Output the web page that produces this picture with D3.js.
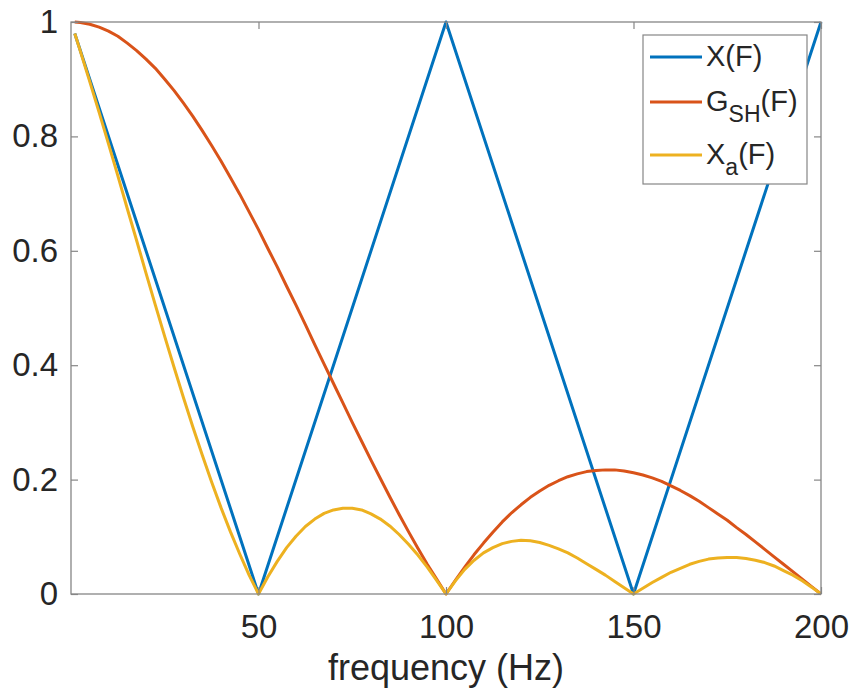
<!DOCTYPE html>
<html>
<head>
<meta charset="utf-8">
<script src="https://cdn.jsdelivr.net/npm/d3@7"></script>
<style>
  html, body { margin: 0; padding: 0; background: #fff; }
  text { font-family: "Liberation Sans", Arial, Helvetica, sans-serif; fill: #262626; }
</style>
</head>
<body>
<div id="vis"></div>
<script>
////////////////////////////////////////
/////////////// Data ///////////////////
////////////////////////////////////////

// X(F): triangular spectrum, vertices only
const freqX = [1, 50, 100, 150, 200];
const valX = [0.98, 0, 1, 0, 1];

// frequencies (Hz) for the smooth curves
const freq = [
  1, 2.5, 5, 7.5, 10, 12.5, 15, 17.5, 20, 22.5, 25, 27.5, 30, 32.5, 35, 37.5,
  40, 42.5, 45, 47.5, 50, 52.5, 55, 57.5, 60, 62.5, 65, 67.5, 70, 72.5, 75,
  77.5, 80, 82.5, 85, 87.5, 90, 92.5, 95, 97.5, 100, 102.5, 105, 107.5, 110,
  112.5, 115, 117.5, 120, 122.5, 125, 127.5, 130, 132.5, 135, 137.5, 140,
  142.5, 145, 147.5, 150, 152.5, 155, 157.5, 160, 162.5, 165, 167.5, 170,
  172.5, 175, 177.5, 180, 182.5, 185, 187.5, 190, 192.5, 195, 197.5, 200
];

// G_SH(F): sample-and-hold response
const valG = [
  1.000, 0.999, 0.996, 0.991, 0.984, 0.975, 0.963, 0.950, 0.935, 0.919, 0.900,
  0.880, 0.858, 0.835, 0.810, 0.784, 0.757, 0.728, 0.699, 0.668, 0.637, 0.604,
  0.572, 0.538, 0.505, 0.471, 0.436, 0.402, 0.368, 0.334, 0.300, 0.267, 0.234,
  0.202, 0.170, 0.139, 0.109, 0.080, 0.052, 0.026, 0.000, 0.024, 0.047, 0.069,
  0.089, 0.108, 0.126, 0.142, 0.156, 0.169, 0.180, 0.190, 0.198, 0.205, 0.210,
  0.214, 0.216, 0.217, 0.217, 0.215, 0.212, 0.208, 0.203, 0.197, 0.189, 0.181,
  0.172, 0.162, 0.151, 0.140, 0.129, 0.116, 0.104, 0.091, 0.078, 0.065, 0.052,
  0.039, 0.026, 0.013, 0.000
];

// X_a(F): output spectrum
const valXa = [
  0.980, 0.949, 0.896, 0.842, 0.787, 0.731, 0.674, 0.618, 0.561, 0.505, 0.450,
  0.396, 0.343, 0.292, 0.243, 0.196, 0.151, 0.109, 0.070, 0.033, 0.000, 0.030,
  0.057, 0.081, 0.101, 0.118, 0.131, 0.141, 0.147, 0.150, 0.150, 0.147, 0.140,
  0.131, 0.119, 0.104, 0.087, 0.068, 0.047, 0.024, 0.000, 0.023, 0.043, 0.059,
  0.072, 0.081, 0.088, 0.092, 0.094, 0.093, 0.090, 0.085, 0.079, 0.072, 0.063,
  0.053, 0.043, 0.033, 0.022, 0.011, 0.000, 0.010, 0.020, 0.029, 0.038, 0.045,
  0.052, 0.057, 0.061, 0.063, 0.064, 0.064, 0.062, 0.059, 0.055, 0.049, 0.041,
  0.033, 0.023, 0.012, 0.000
];

const xTicks = [50, 100, 150, 200];
const yTicks = [0, 0.2, 0.4, 0.6, 0.8, 1];

////////////////////////////////////////
/////////////// Setup //////////////////
////////////////////////////////////////

const W = 852, H = 694;
const box = { left: 71, right: 821, top: 22, bottom: 594 };
const colors = { X: "#0072BD", G: "#D95319", Xa: "#EDB120" };
const axisColor = "#868686";

const svg = d3.select("#vis").append("svg")
  .attr("width", W)
  .attr("height", H);

const x = d3.scaleLinear().domain([0, 200]).range([box.left, box.right]);
const y = d3.scaleLinear().domain([0, 1]).range([box.bottom, box.top]);

////////////////////////////////////////
/////////////// Lines //////////////////
////////////////////////////////////////

const line = d3.line()
  .x((d) => x(d[0]))
  .y((d) => y(d[1]));

const series = [
  { key: "X", pts: d3.zip(freqX, valX) },
  { key: "G", pts: d3.zip(freq, valG) },
  { key: "Xa", pts: d3.zip(freq, valXa) },
];

svg.append("g")
  .selectAll("path")
  .data(series)
  .join("path")
  .attr("d", (d) => line(d.pts))
  .attr("fill", "none")
  .attr("stroke", (d) => colors[d.key])
  .attr("stroke-width", 3)
  .attr("stroke-linejoin", "round");

////////////////////////////////////////
/////////////// Axes ///////////////////
////////////////////////////////////////

const tickLen = 7;

function styleAxis(g) {
  g.select(".domain").remove();
  g.selectAll(".tick line").attr("stroke", axisColor).attr("stroke-width", 1.2);
  g.selectAll(".tick text")
    .attr("font-size", 33)
    .attr("fill", "#262626")
    .style("font-family", "'Liberation Sans', Arial, sans-serif");
}

// bottom
svg.append("g")
  .attr("transform", `translate(0,${box.bottom})`)
  .call(d3.axisBottom(x).tickValues(xTicks).tickSizeInner(-tickLen).tickPadding(21))
  .call(styleAxis);

// top (mirror ticks, no labels)
svg.append("g")
  .attr("transform", `translate(0,${box.top})`)
  .call(d3.axisTop(x).tickValues(xTicks).tickSizeInner(-tickLen).tickFormat(""))
  .call(styleAxis);

// left
svg.append("g")
  .attr("transform", `translate(${box.left},0)`)
  .call(d3.axisLeft(y).tickValues(yTicks).tickSizeInner(-tickLen).tickPadding(13)
    .tickFormat((d) => d3.format("~g")(d)))
  .call(styleAxis);

// right (mirror ticks, no labels)
svg.append("g")
  .attr("transform", `translate(${box.right},0)`)
  .call(d3.axisRight(y).tickValues(yTicks).tickSizeInner(-tickLen).tickFormat(""))
  .call(styleAxis);

// box
svg.append("rect")
  .attr("x", box.left)
  .attr("y", box.top)
  .attr("width", box.right - box.left)
  .attr("height", box.bottom - box.top)
  .attr("fill", "none")
  .attr("stroke", axisColor)
  .attr("stroke-width", 1.3);

// x label
svg.append("text")
  .attr("x", (box.left + box.right) / 2)
  .attr("y", 680)
  .attr("text-anchor", "middle")
  .attr("font-size", 36)
  .text("frequency (Hz)");

////////////////////////////////////////
/////////////// Legend /////////////////
////////////////////////////////////////

const legend = svg.append("g");

legend.append("rect")
  .attr("x", 643)
  .attr("y", 35)
  .attr("width", 164)
  .attr("height", 149)
  .attr("fill", "#fff")
  .attr("stroke", axisColor)
  .attr("stroke-width", 1.2);

const legendRows = [
  { key: "X", main: "X", sub: null, y: 57 },
  { key: "G", main: "G", sub: "SH", y: 102 },
  { key: "Xa", main: "X", sub: "a", y: 155 },
];

legendRows.forEach((r) => {
  legend.append("line")
    .attr("x1", 650).attr("x2", 702)
    .attr("y1", r.y).attr("y2", r.y)
    .attr("stroke", colors[r.key])
    .attr("stroke-width", 3);

  const t = legend.append("text")
    .attr("x", 706)
    .attr("y", r.y + 9)
    .attr("font-size", 29);
  t.append("tspan").text(r.main);
  if (r.sub) {
    t.append("tspan").attr("font-size", 23).attr("dy", 11).text(r.sub);
    t.append("tspan").attr("dy", -11).text("(F)");
  } else {
    t.append("tspan").text("(F)");
  }
});
</script>
</body>
</html>
